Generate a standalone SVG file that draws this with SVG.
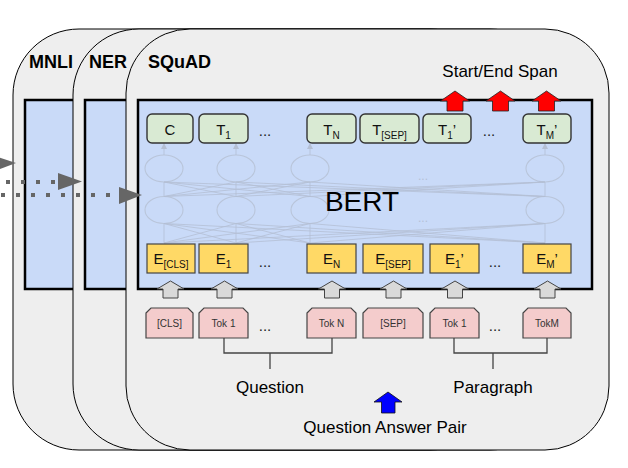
<svg xmlns="http://www.w3.org/2000/svg" width="628" height="468" viewBox="0 0 628 468">
<style>
.card{fill:#eeeeee;stroke:#000;stroke-width:1}
.panel{fill:#c9daf8;stroke:#000;stroke-width:2.5}
.title{font-family:"Liberation Sans",Arial,sans-serif;font-weight:bold;font-size:18px;fill:#000}
.lbl{font-family:"Liberation Sans",Arial,sans-serif;font-size:17px;fill:#000}
.t{font-family:"Liberation Sans",Arial,sans-serif;font-size:15px;fill:#111;text-anchor:middle}
.sub{font-size:10px}
.tok{font-family:"Liberation Sans",Arial,sans-serif;font-size:10px;fill:#333;text-anchor:middle}
.dots{font-family:"Liberation Sans",Arial,sans-serif;font-size:15px;fill:#222;text-anchor:middle}
.out{fill:#d9ead3;stroke:#333;stroke-width:1.4}
.emb{fill:#ffd966;stroke:#444;stroke-width:1.2}
.tk{fill:#f4cccc;stroke:#444;stroke-width:1.2}
.ell{fill:none;stroke:#b9c5da;stroke-width:1.1}
.faint{stroke:#b4bfd4;stroke-width:0.8;fill:none}
.dotline{stroke:#666;stroke-width:4;stroke-dasharray:4 11;fill:none}
.ahead{fill:#666}
.br{stroke:#444;stroke-width:1.3;fill:none}
</style>
<defs>
<path id="red" d="M-14.5,101 L0,91 L14.5,101 L8,101 L8,111 L-8,111 L-8,101 Z" fill="#ff0000" stroke="#222" stroke-width="0.8"/>
<path id="gray" d="M-13.5,289 L0,281 L13.5,289 L7.5,289 L7.5,298 L-7.5,298 L-7.5,289 Z" fill="#d9d9d9" stroke="#444" stroke-width="1"/>
<marker id="fa" markerWidth="6" markerHeight="6" refX="5" refY="3" orient="auto" markerUnits="userSpaceOnUse"><path d="M0,0 L6,3 L0,6 Z" fill="#b4bfd4"/></marker>
</defs>

<!-- cards -->
<g id="mnli">
<rect class="card" x="13" y="29" width="483" height="421" rx="66" ry="66"/>
<text class="title" x="29" y="68">MNLI</text>
<rect class="panel" x="25" y="100" width="300" height="189"/>
</g>
<g id="ner">
<rect class="card" x="73" y="29" width="483" height="421" rx="66" ry="66"/>
<text class="title" x="89" y="68">NER</text>
<rect class="panel" x="85" y="100" width="300" height="189"/>
</g>
<g id="squad">
<rect class="card" x="126" y="29" width="483" height="421" rx="64" ry="64"/>
<text class="title" x="148" y="68">SQuAD</text>
<rect class="panel" x="138" y="100" width="454" height="189"/>
</g>

<!-- BERT internals -->
<g id="bert-internals">
<ellipse class="ell" cx="164" cy="168.5" rx="19" ry="13.5"/>
<ellipse class="ell" cx="236" cy="168.5" rx="19" ry="13.5"/>
<ellipse class="ell" cx="310" cy="168.5" rx="19" ry="13.5"/>
<ellipse class="ell" cx="545" cy="168.5" rx="19" ry="13.5"/>
<ellipse class="ell" cx="164" cy="210" rx="19" ry="13.5"/>
<ellipse class="ell" cx="236" cy="210" rx="19" ry="13.5"/>
<ellipse class="ell" cx="310" cy="210" rx="19" ry="13.5"/>
<ellipse class="ell" cx="545" cy="210" rx="19" ry="13.5"/>
<text x="423" y="180" font-family="Liberation Sans,sans-serif" font-size="12" fill="#b4c0d6" text-anchor="middle">...</text>
<text x="423" y="222" font-family="Liberation Sans,sans-serif" font-size="12" fill="#b4c0d6" text-anchor="middle">...</text>
<g class="faint">
<line x1="164" y1="155" x2="164" y2="144" marker-end="url(#fa)"/>
<line x1="236" y1="155" x2="236" y2="144" marker-end="url(#fa)"/>
<line x1="310" y1="155" x2="310" y2="144" marker-end="url(#fa)"/>
<line x1="545" y1="155" x2="545" y2="144" marker-end="url(#fa)"/>
<path d="M164,196.5 L164,182 M164,196.5 L236,182 M164,196.5 L310,182 M164,196.5 L545,182 M236,196.5 L164,182 M236,196.5 L236,182 M236,196.5 L310,182 M236,196.5 L545,182 M310,196.5 L164,182 M310,196.5 L236,182 M310,196.5 L310,182 M310,196.5 L545,182 M545,196.5 L164,182 M545,196.5 L236,182 M545,196.5 L310,182 M545,196.5 L545,182"/>
<path d="M164,243 L164,223.5 M164,243 L236,223.5 M164,243 L310,223.5 M164,243 L545,223.5 M236,243 L164,223.5 M236,243 L236,223.5 M236,243 L310,223.5 M236,243 L545,223.5 M310,243 L164,223.5 M310,243 L236,223.5 M310,243 L310,223.5 M310,243 L545,223.5 M545,243 L164,223.5 M545,243 L236,223.5 M545,243 L310,223.5 M545,243 L545,223.5"/>
</g>
<text x="362" y="211" font-family="Liberation Sans,Arial,sans-serif" font-size="28" fill="#000" text-anchor="middle">BERT</text>
</g>

<!-- output nodes -->
<g id="out-C"><rect class="out" x="147" y="114" width="46" height="29" rx="5"/><text class="t" x="170" y="135">C</text></g>
<g id="out-T1"><rect class="out" x="199" y="114" width="49" height="29" rx="5"/><text class="t" x="223.5" y="135">T<tspan class="sub" dy="4">1</tspan></text></g>
<text class="dots" x="265" y="136">...</text>
<g id="out-TN"><rect class="out" x="307" y="114" width="49" height="29" rx="5"/><text class="t" x="331.5" y="135">T<tspan class="sub" dy="4">N</tspan></text></g>
<g id="out-TSEP"><rect class="out" x="360" y="114" width="59" height="29" rx="5"/><text class="t" x="389.5" y="135">T<tspan class="sub" dy="4">[SEP]</tspan></text></g>
<g id="out-T1p"><rect class="out" x="423" y="114" width="48" height="29" rx="5"/><text class="t" x="447" y="135">T<tspan class="sub" dy="4">1</tspan><tspan dy="-4">’</tspan></text></g>
<text class="dots" x="489" y="136">...</text>
<g id="out-TMp"><rect class="out" x="523" y="114" width="48" height="29" rx="5"/><text class="t" x="547" y="135">T<tspan class="sub" dy="4">M</tspan><tspan dy="-4">’</tspan></text></g>

<!-- embeddings -->
<g id="emb-CLS"><rect class="emb" x="147" y="244" width="48" height="29"/><text class="t" x="171" y="264">E<tspan class="sub" dy="4">[CLS]</tspan></text></g>
<g id="emb-1"><rect class="emb" x="199" y="244" width="49" height="29"/><text class="t" x="223.5" y="264">E<tspan class="sub" dy="4">1</tspan></text></g>
<text class="dots" x="265" y="267">...</text>
<g id="emb-N"><rect class="emb" x="307" y="244" width="49" height="29"/><text class="t" x="331.5" y="264">E<tspan class="sub" dy="4">N</tspan></text></g>
<g id="emb-SEP"><rect class="emb" x="363" y="244" width="60" height="29"/><text class="t" x="393" y="264">E<tspan class="sub" dy="4">[SEP]</tspan></text></g>
<g id="emb-1p"><rect class="emb" x="430" y="244" width="49" height="29"/><text class="t" x="454.5" y="264">E<tspan class="sub" dy="4">1</tspan><tspan dy="-4">’</tspan></text></g>
<text class="dots" x="495" y="267">...</text>
<g id="emb-Mp"><rect class="emb" x="523" y="244" width="48" height="29"/><text class="t" x="547" y="264">E<tspan class="sub" dy="4">M</tspan><tspan dy="-4">’</tspan></text></g>

<!-- tokens -->
<g id="tok-CLS"><path class="tk" d="M146,313 L151,308 L188,308 L193,313 L193,338 L146,338 Z"/><text class="tok" x="169.5" y="327">[CLS]</text></g>
<g id="tok-1"><path class="tk" d="M199,313 L204,308 L243,308 L248,313 L248,338 L199,338 Z"/><text class="tok" x="223.5" y="327">Tok 1</text></g>
<text class="dots" x="265" y="331">...</text>
<g id="tok-N"><path class="tk" d="M307,313 L312,308 L351,308 L356,313 L356,338 L307,338 Z"/><text class="tok" x="331.5" y="327">Tok N</text></g>
<g id="tok-SEP"><path class="tk" d="M363,313 L368,308 L418,308 L423,313 L423,338 L363,338 Z"/><text class="tok" x="393" y="327">[SEP]</text></g>
<g id="tok-1p"><path class="tk" d="M430,313 L435,308 L474,308 L479,313 L479,338 L430,338 Z"/><text class="tok" x="454.5" y="327">Tok 1</text></g>
<text class="dots" x="495" y="331">...</text>
<g id="tok-M"><path class="tk" d="M523,313 L528,308 L566,308 L571,313 L571,338 L523,338 Z"/><text class="tok" x="547" y="327">TokM</text></g>

<!-- connectors -->
<g id="connectors">
<use href="#red" transform="translate(455,0)"/>
<use href="#red" transform="translate(500.5,0)"/>
<use href="#red" transform="translate(546.5,0)"/>
<use href="#gray" transform="translate(170.5,0)"/>
<use href="#gray" transform="translate(224.5,0)"/>
<use href="#gray" transform="translate(332,0)"/>
<use href="#gray" transform="translate(393.5,0)"/>
<use href="#gray" transform="translate(455,0)"/>
<use href="#gray" transform="translate(547.5,0)"/>
<path d="M380.5,402 L374,402 L388,392 L402,402 L395,402 L395,413 L381.5,413 L381.5,402 Z" fill="#0000ff" stroke="#111" stroke-width="0.8"/>
<path class="br" d="M224,338 L224,353 L332,353 L332,338 M270,353 L270,369"/>
<path class="br" d="M454,338 L454,353 L547,353 L547,338 M493,353 L493,369"/>
<path class="ahead" d="M-8,155 L16,163 L-8,172 Z"/>
<line class="dotline" x1="6" y1="182" x2="58" y2="182"/>
<path class="ahead" d="M58,173 L82,181.5 L58,190 Z"/>
<line class="dotline" x1="1" y1="195" x2="119" y2="195"/>
<path class="ahead" d="M119,187 L142,195 L119,204 Z"/>
</g>

<text class="lbl" x="500" y="77" text-anchor="middle">Start/End Span</text>
<text class="lbl" x="270" y="393" text-anchor="middle">Question</text>
<text class="lbl" x="493" y="393" text-anchor="middle">Paragraph</text>
<text class="lbl" x="385" y="433" text-anchor="middle">Question Answer Pair</text>
</svg>
